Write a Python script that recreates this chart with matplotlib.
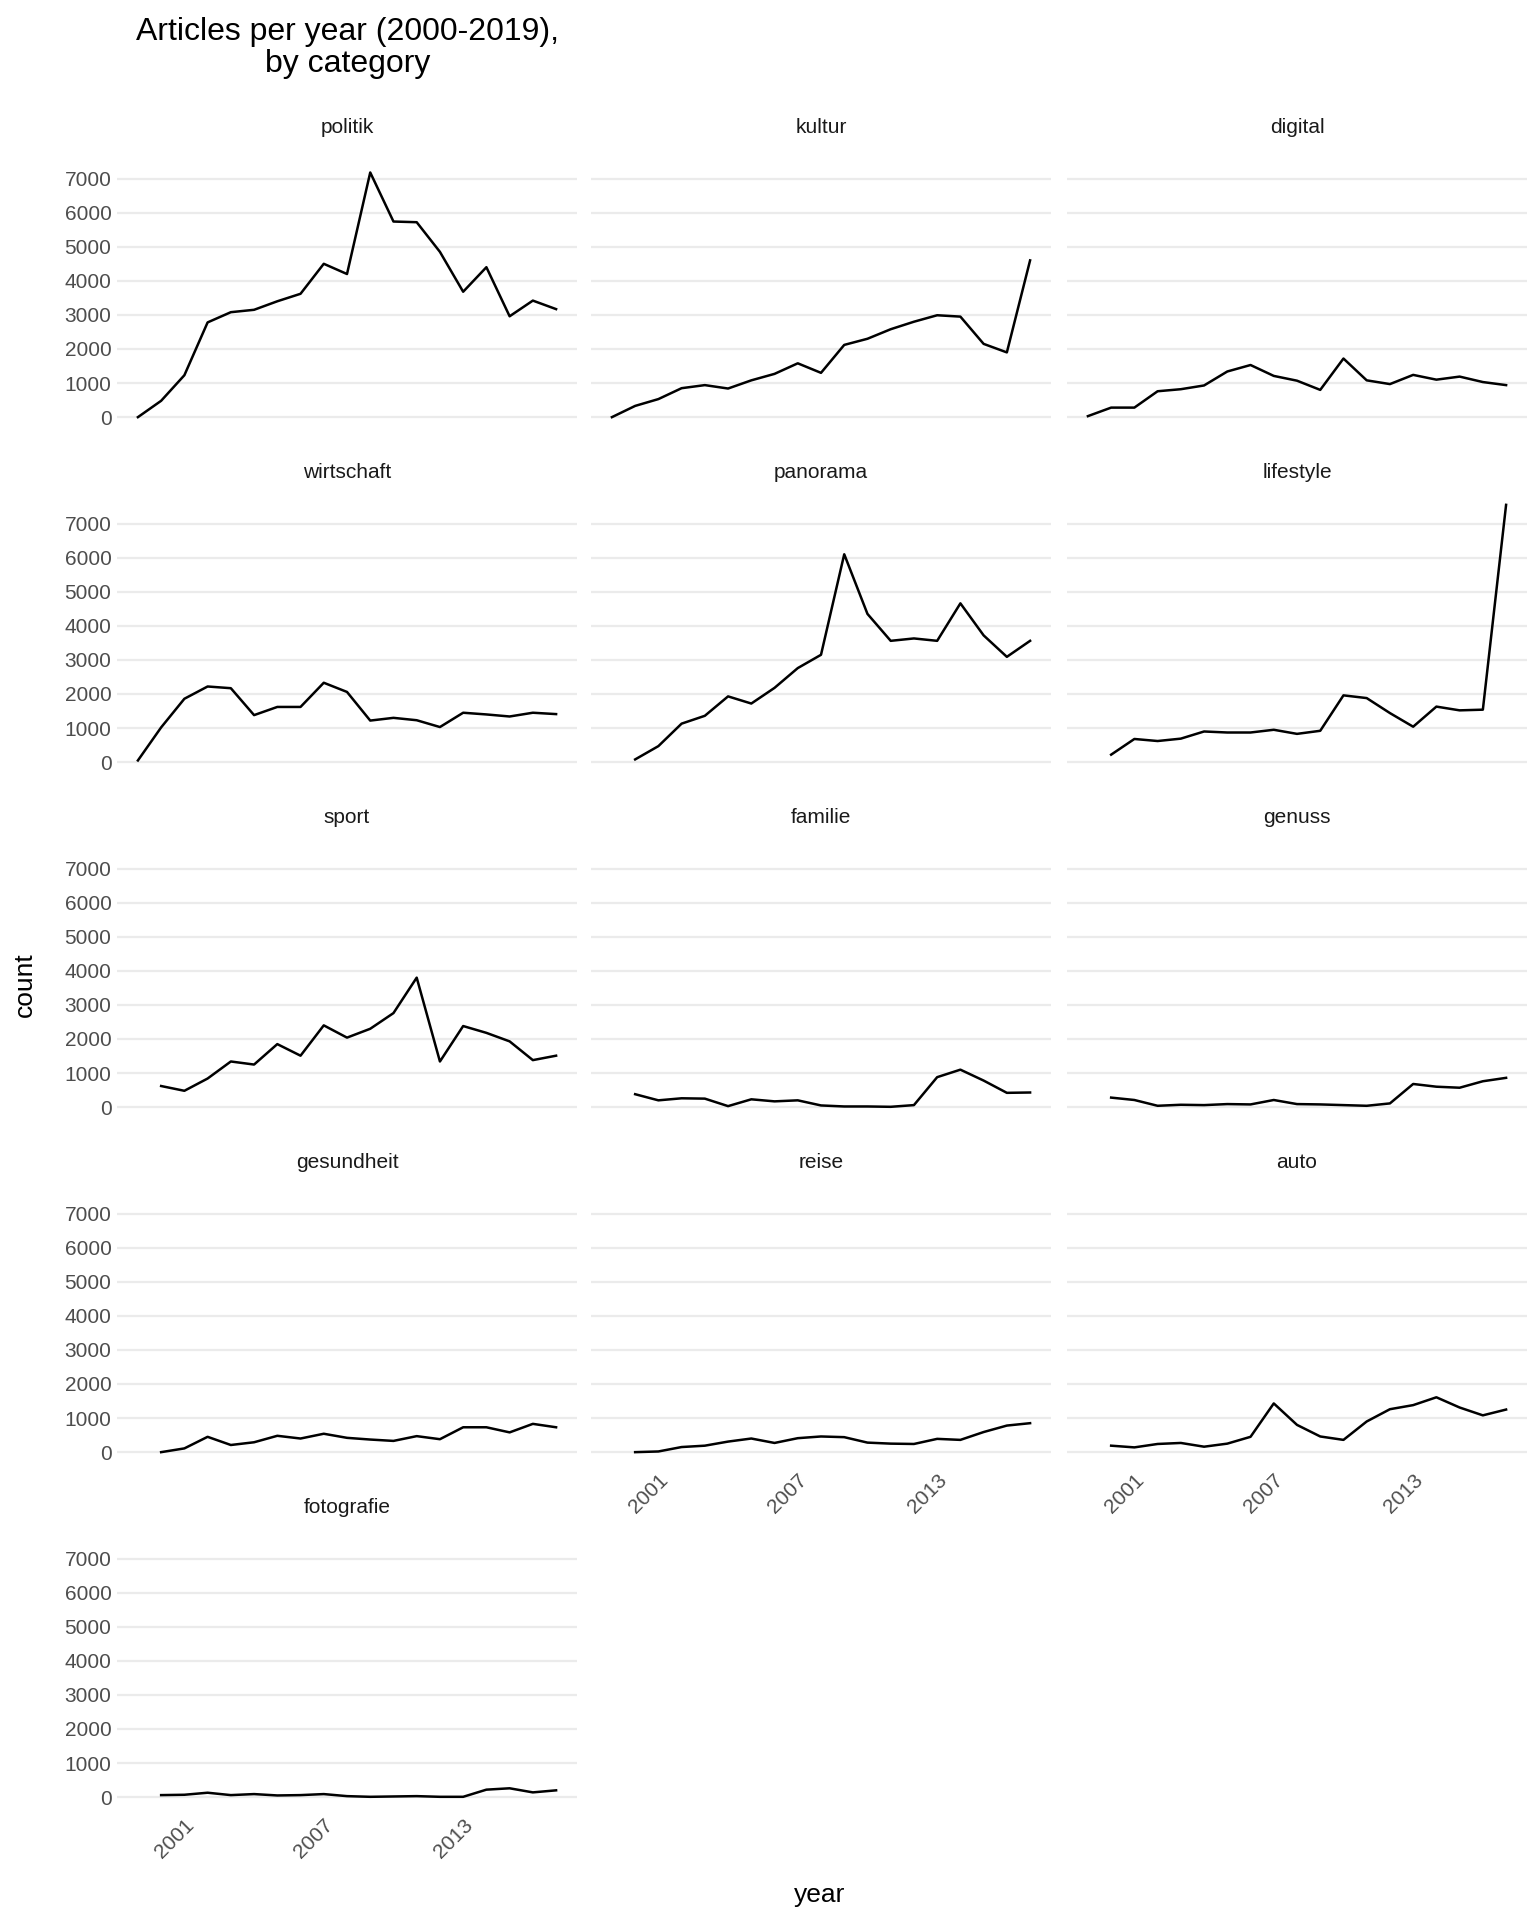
import matplotlib.pyplot as plt

cats = ["politik", "kultur", "digital", "wirtschaft", "panorama", "lifestyle",
        "sport", "familie", "genuss", "gesundheit", "reise", "auto", "fotografie"]
start_year = {"politik": 1999, "kultur": 1999, "digital": 1999, "wirtschaft": 1999}
counts = {
    "politik": [0, 480, 1230, 2780, 3080, 3150, 3400, 3620, 4500, 4200, 7180, 5740, 5720, 4850, 3680, 4400, 2960, 3420, 3170],
    "kultur": [0, 330, 530, 850, 940, 840, 1080, 1270, 1580, 1300, 2120, 2300, 2580, 2800, 2990, 2950, 2150, 1900, 4600],
    "digital": [30, 280, 280, 760, 820, 930, 1340, 1530, 1210, 1070, 800, 1720, 1080, 970, 1240, 1100, 1190, 1030, 940],
    "wirtschaft": [50, 1020, 1860, 2220, 2170, 1380, 1620, 1620, 2330, 2060, 1220, 1300, 1230, 1030, 1450, 1400, 1340, 1450, 1410],
    "panorama": [80, 470, 1130, 1360, 1930, 1720, 2180, 2760, 3150, 6100, 4350, 3560, 3630, 3560, 4660, 3720, 3090, 3560],
    "lifestyle": [220, 680, 620, 690, 900, 870, 870, 950, 830, 920, 1960, 1880, 1440, 1040, 1630, 1520, 1540, 7550],
    "sport": [620, 480, 840, 1340, 1250, 1850, 1510, 2400, 2040, 2300, 2760, 3800, 1340, 2380, 2180, 1930, 1380, 1510],
    "familie": [380, 200, 260, 250, 30, 230, 170, 200, 50, 20, 20, 10, 60, 880, 1100, 780, 420, 430],
    "genuss": [280, 210, 40, 70, 60, 90, 80, 210, 90, 80, 60, 40, 110, 680, 600, 570, 760, 860],
    "gesundheit": [0, 110, 450, 210, 290, 480, 400, 540, 420, 370, 330, 470, 380, 730, 730, 580, 830, 730],
    "reise": [0, 20, 150, 190, 310, 400, 270, 410, 460, 440, 280, 250, 240, 390, 360, 590, 780, 850],
    "auto": [190, 140, 240, 270, 160, 250, 450, 1430, 800, 460, 360, 900, 1260, 1380, 1610, 1310, 1080, 1250],
    "fotografie": [60, 70, 130, 60, 90, 50, 60, 90, 30, 10, 20, 30, 10, 10, 220, 260, 140, 200],
}
x_ticks = [2001, 2007, 2013]
y_ticks = [0, 1000, 2000, 3000, 4000, 5000, 6000, 7000]

W, H = 1536, 1920
plt.rcParams['font.family'] = ['Liberation Sans', 'DejaVu Sans']
fig = plt.figure(figsize=(W / 100, H / 100), dpi=100)

col_left = [117, 591, 1067]
pw = 460
row_top = 147
ph = 283
row_step = 345
grey = "#4d4d4d"

for i, c in enumerate(cats):
    r, k = divmod(i, 3)
    top = row_top + r * row_step
    ax = fig.add_axes([col_left[k] / W, 1 - (top + ph) / H, pw / W, ph / H])
    y0 = start_year.get(c, 2000)
    ax.plot(range(y0, y0 + len(counts[c])), counts[c], color="black", lw=1.8)
    ax.set_xlim(1998.1, 2017.9)
    ax.set_ylim(-377, 7927)
    ax.set_yticks(y_ticks)
    ax.set_xticks(x_ticks)
    ax.grid(axis="y", color="#ebebeb", lw=1.6)
    ax.set_axisbelow(True)
    for s in ax.spines.values():
        s.set_visible(False)
    ax.tick_params(length=0, labelsize=15, labelcolor=grey, pad=4)
    if k != 0:
        ax.set_yticklabels([])
    bottom = (r == 4) or (r == 3 and k > 0)
    if bottom:
        ax.set_xticklabels([str(t) for t in x_ticks], rotation=45, ha="right",
                           rotation_mode="anchor")
    else:
        ax.set_xticklabels([])
    ax.set_title(c, fontsize=15, color="#1a1a1a", pad=10)

fig.text(348 / W, 1 - 48 / H, "Articles per year (2000-2019),\nby category",
         ha="center", va="center", fontsize=23, linespacing=1.05)
fig.text(25 / W, 1 - 985 / H, "count", rotation=90, ha="center", va="center", fontsize=19)
fig.text(820 / W, 1 - 1895 / H, "year", ha="center", va="center", fontsize=19)

fig.savefig("out.png", dpi=100, facecolor="white")
